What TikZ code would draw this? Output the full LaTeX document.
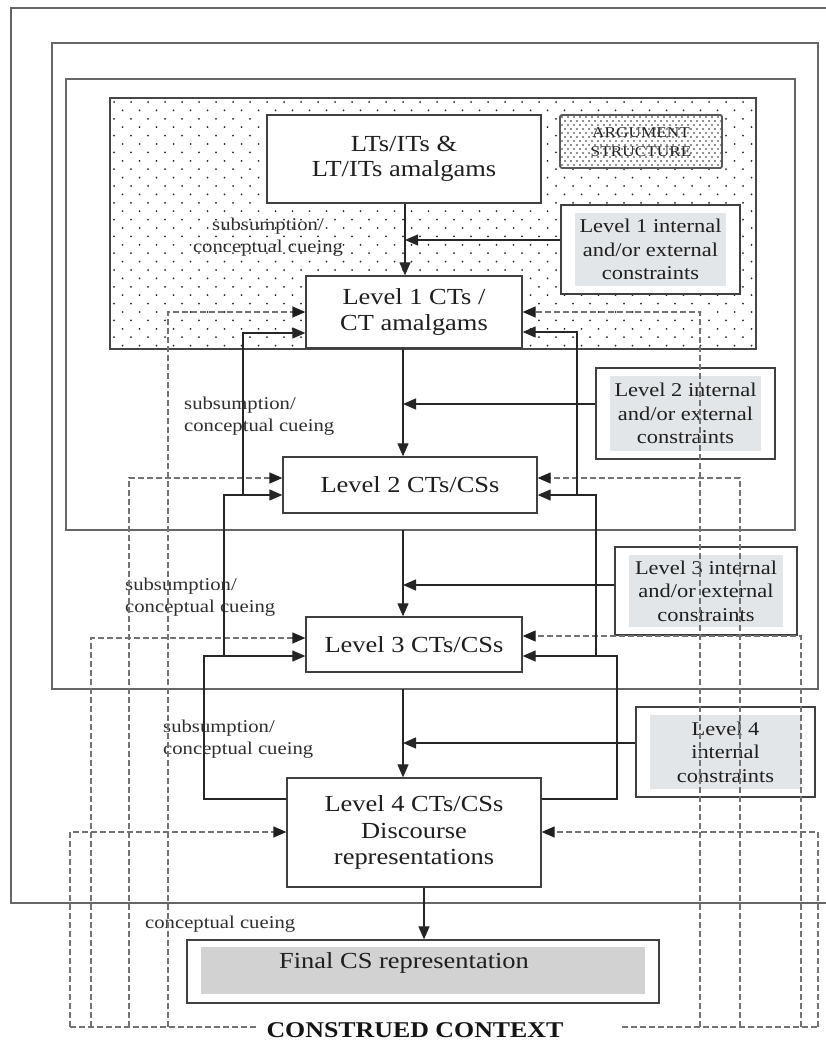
\documentclass[tikz,border=0pt]{standalone}
\usepackage{fontspec}
\setmainfont{Liberation Serif}[FakeStretch=1.15]
\usetikzlibrary{arrows.meta}
\definecolor{conbg}{HTML}{E3E6E8}
\definecolor{finbg}{HTML}{D2D2D2}
\newcommand\fmain{\fontsize{23}{26.5}\selectfont}
\newcommand\fcon{\fontsize{19.5}{23.5}\selectfont}
\newcommand\flab{\fontsize{18}{22.5}\selectfont}
\newcommand\farg{\fontsize{15}{19}\selectfont}
\begin{document}
\begin{tikzpicture}[x=1pt,y=-1pt,
  frame/.style={draw=black!60, line width=1.4pt},
  bx/.style={draw=black!75, line width=1.3pt, fill=white, inner sep=0pt, align=center, text=black!88, font=\fmain},
  con/.style={bx, font=\fcon, path picture={\fill[conbg] ([shift={(14pt,8pt)}]path picture bounding box.south west) rectangle ([shift={(-14pt,-8pt)}]path picture bounding box.north east);}},
  fin/.style={bx, path picture={\fill[finbg] ([shift={(14pt,9pt)}]path picture bounding box.south west) rectangle ([shift={(-14pt,-7pt)}]path picture bounding box.north east);}},
  lab/.style={inner sep=0pt, text=black!82, font=\flab},
  arr/.style={draw=black!85, line width=1.2pt, -{Triangle[length=13pt,width=11pt]}},
  dsh/.style={draw=black!55, line width=1.3pt, dash pattern=on 6pt off 3pt},
  darr/.style={dsh, -{Triangle[length=13pt,width=11pt,color=black!88]}},
]
\useasboundingbox (0,0) rectangle (826,1043);
\clip (0,0) rectangle (826,1043);
\fill[white] (0,0) rectangle (826,1043);

% frames
\draw[frame] (11,8) rectangle (850,903);
\draw[frame] (52,43) rectangle (818,689);
\draw[frame] (66,79) rectangle (795,530);

% dotted region
\begin{scope}
\clip (110,98) rectangle (756,349);
\foreach \r in {0,...,29}{
  \foreach \c in {0,...,37}{
    \fill[black!85] ({114+17*\c+8.5*mod(\r,2)},{102+8.4*\r}) circle (1pt);
  }
}
\end{scope}
\draw[frame, draw=black!72] (110,98) rectangle (756,349);

% nodes
\node[bx, minimum width=274pt, minimum height=88pt] (LT) at (404,159) {LTs/ITs \&\\[-1pt]LT/ITs amalgams};
\node[bx, draw=black!65, line width=1.8pt, rounded corners=2pt, minimum width=162pt, minimum height=53pt] (AS) at (641,141.5) {};
\begin{scope}
\clip (561,116) rectangle (721,167);
\foreach \r in {0,...,12}{
  \foreach \c in {0,...,27}{
    \fill[black!85] ({562+6*\c+3*mod(\r,2)},{117+4*\r}) circle (0.85pt);
  }
}
\end{scope}
\node[inner sep=0pt, align=center, font=\farg, text=black!85] (AStxt) at (641,142) {ARGUMENT\\STRUCTURE};

\node[con, minimum width=179pt, minimum height=89pt] (C1) at (650.5,249.5) {Level 1 internal\\and/or external\\constraints};
\node[bx, minimum width=216pt, minimum height=72pt] (L1) at (414,312) {Level 1 CTs /\\[-1pt]CT amalgams};
\node[con, minimum width=179pt, minimum height=91pt] (C2) at (685.5,413.5) {Level 2 internal\\and/or external\\constraints};
\node[bx, minimum width=254pt, minimum height=56pt] (L2) at (410,485) {Level 2 CTs/CSs};
\node[con, minimum width=182pt, minimum height=88pt] (C3) at (706,591) {Level 3 internal\\and/or external\\constraints};
\node[bx, minimum width=216pt, minimum height=55pt] (L3) at (414,644.5) {Level 3 CTs/CSs};
\node[con, minimum width=179pt, minimum height=90pt] (C4) at (725.5,752) {Level 4\\internal\\constraints};
\node[bx, minimum width=254pt, minimum height=109pt] (L4) at (414,832.5) {Level 4 CTs/CSs\\Discourse\\representations};
\node[fin, minimum width=472pt, minimum height=63pt] (FC) at (423,971.5) {};
\node[inner sep=0pt, font=\fmain, text=black!88] (FCt) at (404,963) {Final CS representation};

% labels
\node[lab, align=center] (s1) at (268,237) {subsumption/\\conceptual cueing};
\node[lab, align=left, anchor=west] (s2) at (184,416) {subsumption/\\conceptual cueing};
\node[lab, align=left, anchor=west] (s3) at (125,597) {subsumption/\\conceptual cueing};
\node[lab, align=left, anchor=west] (s4) at (163,739) {subsumption/\\conceptual cueing};
\node[lab, anchor=west] (s5) at (145,924) {conceptual cueing};
\node[inner sep=0pt, font=\fontsize{22.5}{26}\selectfont\bfseries, text=black!92] (CC) at (415,1030) {CONSTRUED CONTEXT};

% dashed construed-context rails
\coordinate (dl1) at (168,1027);
\coordinate (dl2) at (129,1027);
\coordinate (dl3) at (91,1027);
\coordinate (dl4) at (70,1027);
\coordinate (dr1) at (700,1027);
\coordinate (dr2) at (740,1027);
\coordinate (dr3) at (801,1027);
\coordinate (dr4) at (818,1027);
\coordinate (dbl) at (258,1027);
\coordinate (dbr) at (622,1027);
\draw[dsh] (dl4) -- (dbl);
\draw[dsh] (dbr) -- (dr4);
\draw[darr] (dl1) |- (L1.west |- 0,312);
\draw[darr] (dl2) |- (L2.west |- 0,478);
\draw[darr] (dl3) |- (L3.west |- 0,638);
\draw[darr] (dl4) |- (L4.west |- 0,832);
\draw[darr] (dr1) |- (L1.east |- 0,312);
\draw[darr] (dr2) |- (L2.east |- 0,478);
\draw[darr] (dr3) |- (L3.east |- 0,636);
\draw[darr] (dr4) |- (L4.east |- 0,832);

% solid feedback
\coordinate (fl3) at (204,656);
\coordinate (fl2) at (224,656);
\coordinate (fl1) at (243,495);
\coordinate (fr3) at (617,656);
\coordinate (fr2) at (596,656);
\coordinate (fr1) at (577,495);
\draw[arr] (L4.west |- 0,799) -| (fl3) -- (L3.west |- fl3);
\draw[arr] (fl2) |- (L2.west |- 0,495);
\draw[arr] (fl1) |- (L1.west |- 0,333);
\draw[arr] (L4.east |- 0,799) -| (fr3) -- (L3.east |- fr3);
\draw[arr] (fr2) |- (L2.east |- 0,495);
\draw[arr] (fr1) |- (L1.east |- 0,332);

% main flow
\coordinate (b3) at (403,530);
\coordinate (b2) at (403,689);
\draw[arr] (LT.south -| 405,0) -- (L1.north -| 405,0);
\draw[arr] (L1.south -| 403,0) -- (L2.north -| 403,0);
\draw[arr] (b3) -- (L3.north -| b3);
\draw[arr] (b2) -- (L4.north -| b2);
\draw[arr] (L4.south -| 424,0) -- (FC.north -| 424,0);

% constraint inputs
\coordinate (j1) at (405,240);
\coordinate (j2) at (403,404);
\coordinate (j3) at (403,585);
\coordinate (j4) at (403,743);
\draw[arr] (C1.west |- j1) -- (j1);
\draw[arr] (C2.west |- j2) -- (j2);
\draw[arr] (C3.west |- j3) -- (j3);
\draw[arr] (C4.west |- j4) -- (j4);
\end{tikzpicture}
\end{document}
